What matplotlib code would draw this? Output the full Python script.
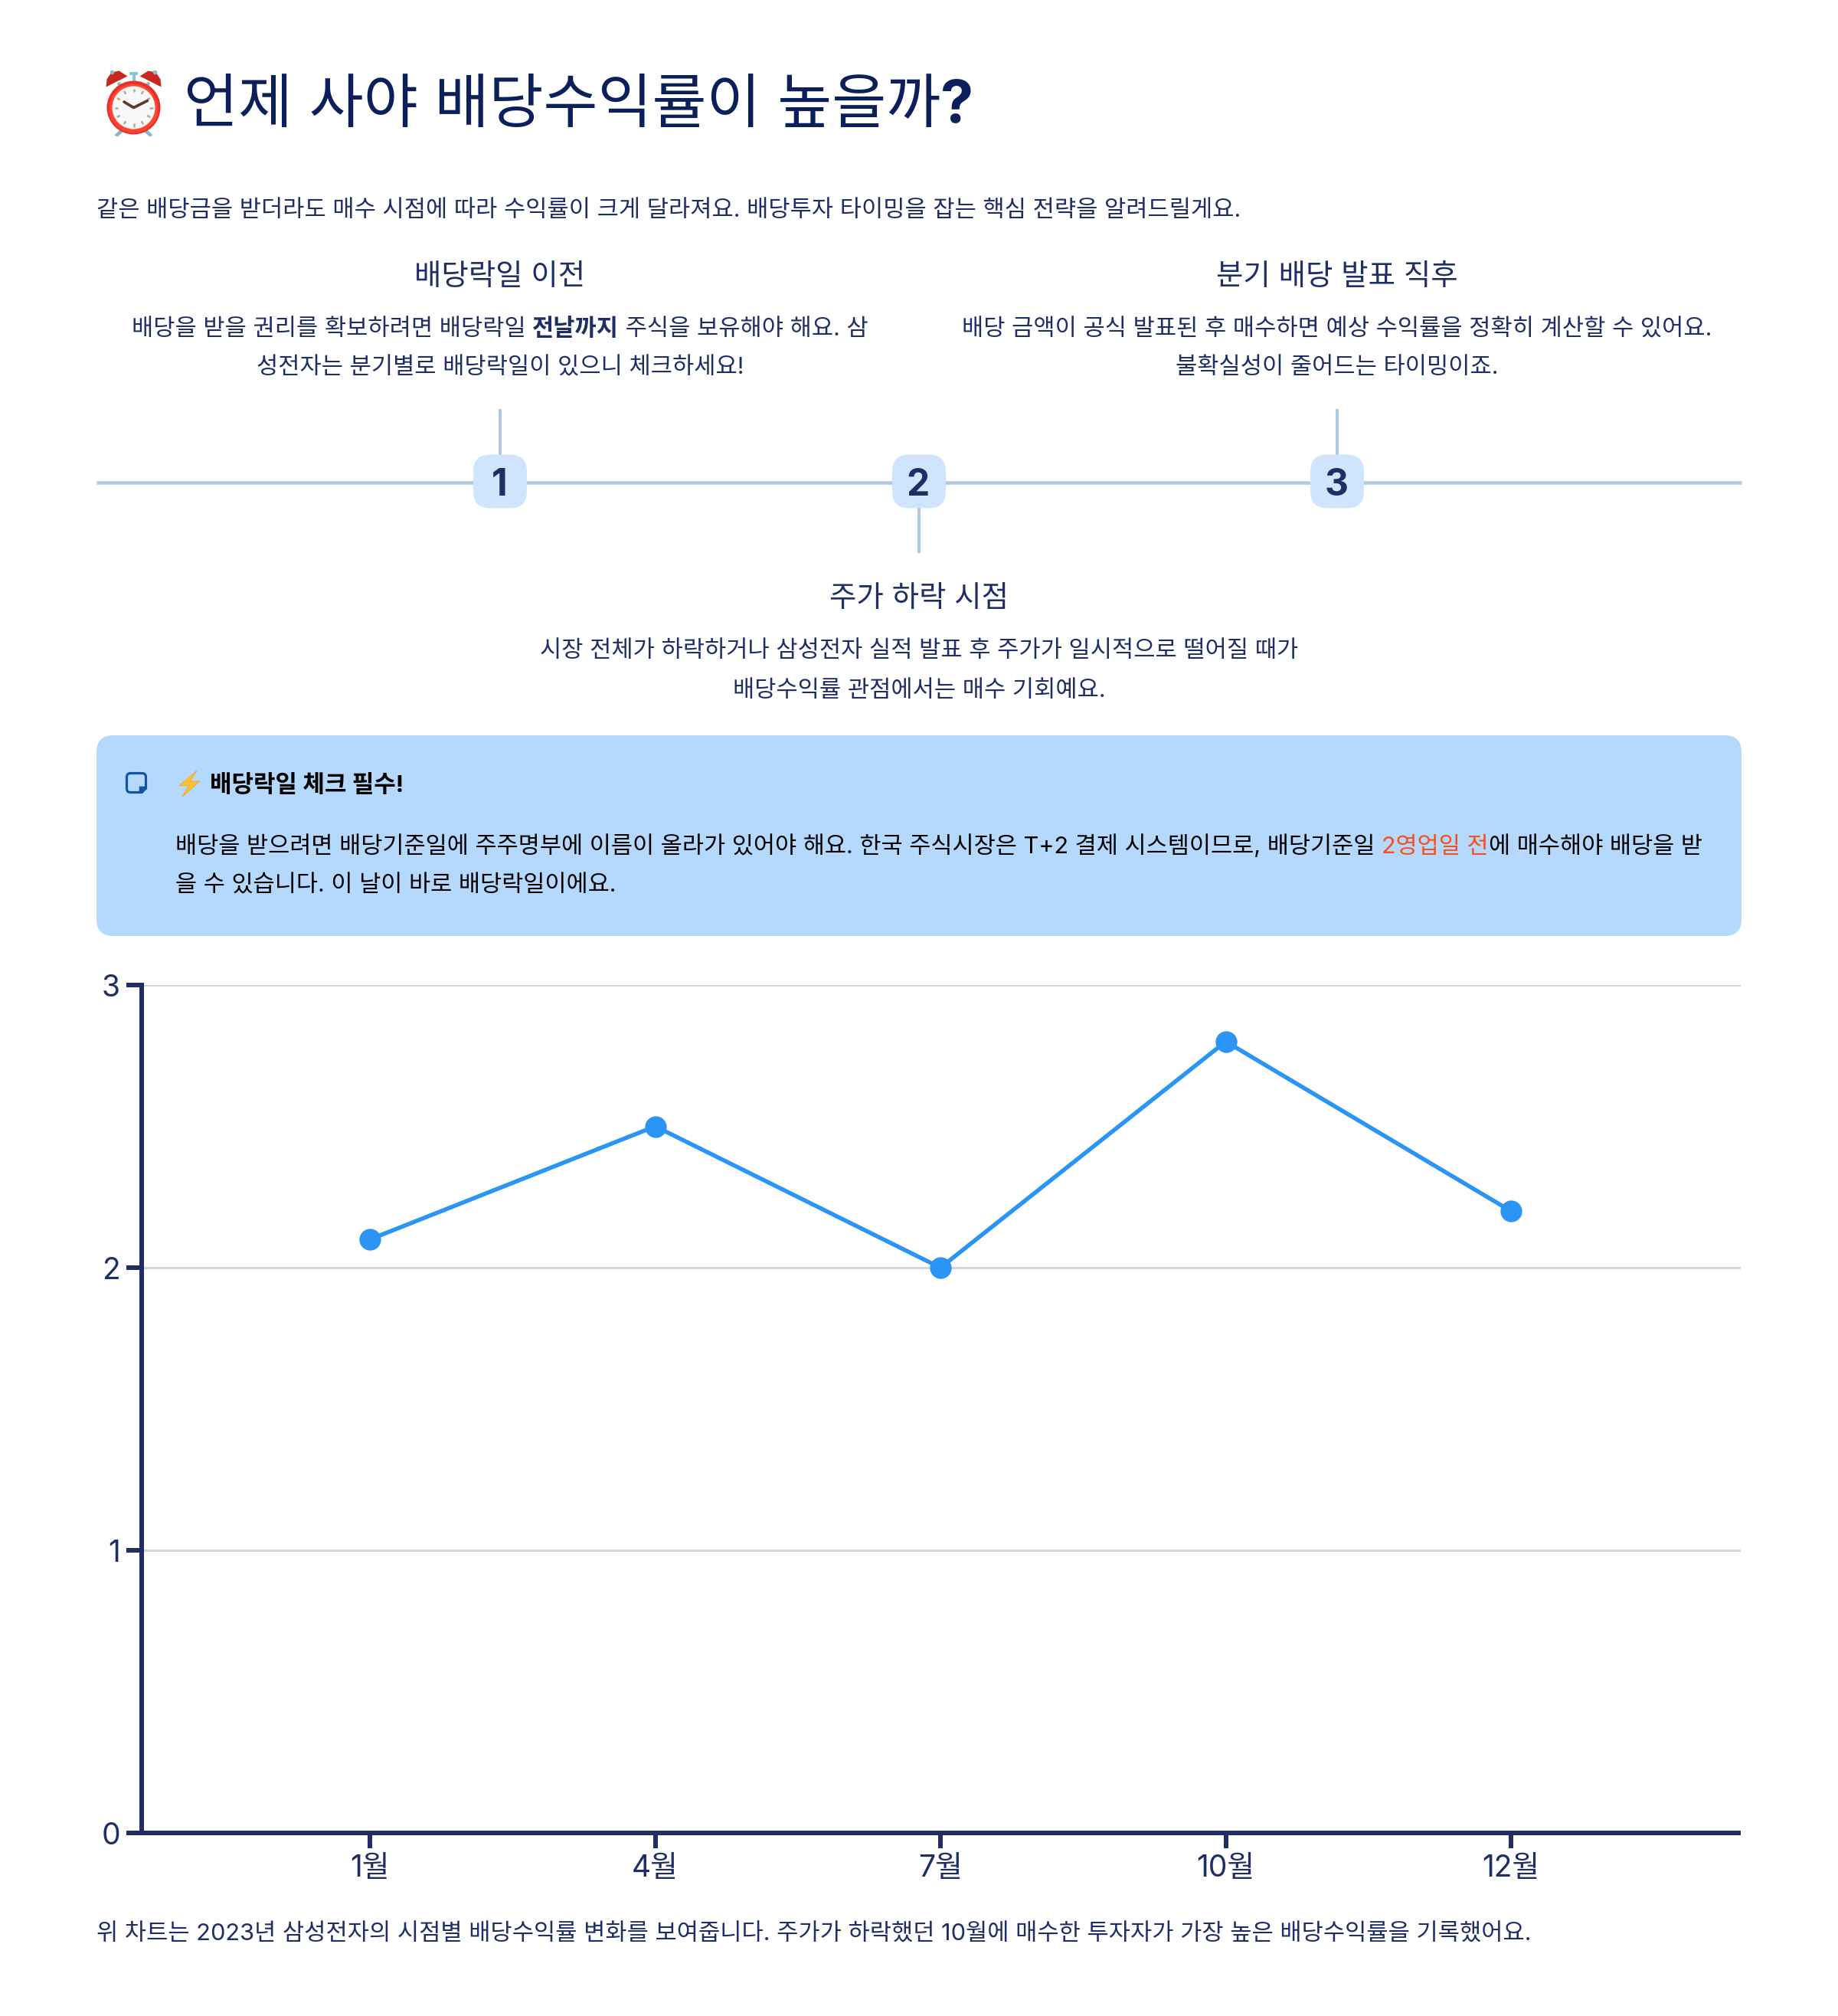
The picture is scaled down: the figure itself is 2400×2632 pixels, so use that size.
import matplotlib
matplotlib.use("Agg")
from matplotlib import pyplot as plt
from matplotlib.patches import FancyBboxPatch, Circle, Polygon, Rectangle

FONTS = ['Inter', 'Noto Sans CJK KR', 'DejaVu Sans']
plt.rcParams['font.family'] = FONTS

# chart data
months = ['1월', '4월', '7월', '10월', '12월']
yields = [2.1, 2.5, 2.0, 2.8, 2.2]
y_ticks = [0, 1, 2, 3]

# page text
title = '언제 사야 배당수익률이 높을까'
title_end = '?'
subtitle = '같은 배당금을 받더라도 매수 시점에 따라 수익률이 크게 달라져요. 배당투자 타이밍을 잡는 핵심 전략을 알려드릴게요.'
step_numbers = ['1', '2', '3']
step_heads = ['배당락일 이전', '주가 하락 시점', '분기 배당 발표 직후']
step1_lines = [[('배당을 받을 권리를 확보하려면 배당락일 ', 'n'), ('전날까지', 'b'), (' 주식을 보유해야 해요. 삼', 'n')],
               [('성전자는 분기별로 배당락일이 있으니 체크하세요!', 'n')]]
step2_lines = [[('시장 전체가 하락하거나 삼성전자 실적 발표 후 주가가 일시적으로 떨어질 때가', 'n')],
               [('배당수익률 관점에서는 매수 기회예요.', 'n')]]
step3_lines = [[('배당 금액이 공식 발표된 후 매수하면 예상 수익률을 정확히 계산할 수 있어요.', 'n')],
               [('불확실성이 줄어드는 타이밍이죠.', 'n')]]
note_head = '배당락일 체크 필수!'
note_line1 = [('배당을 받으려면 배당기준일에 주주명부에 이름이 올라가 있어야 해요. 한국 주식시장은 T+2 결제 시스템이므로, 배당기준일 ', 'n'),
              ('2영업일 전', 'o'), ('에 매수해야 배당을 받', 'n')]
note_line2 = [('을 수 있습니다. 이 날이 바로 배당락일이에요.', 'n')]
footnote = '위 차트는 2023년 삼성전자의 시점별 배당수익률 변화를 보여줍니다. 주가가 하락했던 10월에 매수한 투자자가 가장 높은 배당수익률을 기록했어요.'

NAVY = '#1F2F66'
DARK = '#0B1F5B'
LINE = '#B0C9E2'
BOX = '#B5D9FC'
W, H = 2400, 2632

fig = plt.figure(figsize=(12, 13.16), dpi=200)
bg = fig.add_axes([0, 0, 1, 1])
bg.set_xlim(0, W)
bg.set_ylim(H, 0)
bg.axis('off')
renderer = fig.canvas.get_renderer()


def px(size):
    return size * 72 / 200


def run_width(s, size, weight):
    # wrap in X so leading and trailing spaces are counted
    a = bg.text(0, 0, 'X' + s + 'X', fontsize=size, fontweight=weight)
    b = bg.text(0, 0, 'XX', fontsize=size, fontweight=weight)
    w = a.get_window_extent(renderer).width - b.get_window_extent(renderer).width
    a.remove()
    b.remove()
    return w * W / fig.bbox.width


def draw_runs(x, yc, runs, size_px, color, ha='left'):
    size = px(size_px)
    styles = {'n': ('normal', color), 'b': ('bold', color), 'o': ('normal', '#F4511E')}
    widths = [run_width(s, size, styles[k][0]) for s, k in runs]
    if ha == 'center':
        x = x - sum(widths) / 2
    y = yc + 0.36 * size_px
    for (s, k), w in zip(runs, widths):
        bg.text(x, y, s, fontsize=size, fontweight=styles[k][0], color=styles[k][1], va='baseline', ha='left')
        x += w


def draw_clock(cx, cy):
    # legs
    for s in (-1, 1):
        bg.add_patch(Polygon([[cx + s * 17, cy + 28], [cx + s * 25, cy + 36], [cx + s * 21, cy + 38], [cx + s * 13, cy + 31]], fc='#7FB6CC', lw=0))
    # stem and bells
    bg.add_patch(Rectangle((cx - 2, cy - 44), 4, 12, fc='#8CC3D8', lw=0))
    bg.add_patch(FancyBboxPatch((cx - 5, cy - 46), 10, 3, boxstyle='round,pad=0.5,rounding_size=1.5', fc='#8CC3D8', lw=0))
    for s in (-1, 1):
        bg.add_patch(Polygon([[cx + s * 36, cy - 27], [cx + s * 35, cy - 37], [cx + s * 29, cy - 46], [cx + s * 19, cy - 48], [cx + s * 8, cy - 41]], fc='#C8281E', lw=0))
        bg.add_patch(Circle((cx + s * 28, cy - 46), 2.8, fc='#8ABBD0', lw=0))
        bg.add_patch(Circle((cx + s * 19, cy - 31), 2.5, fc='#8ABBD0', lw=0))
    # body and face
    bg.add_patch(Circle((cx, cy), 35, fc='#E53225', lw=0))
    bg.add_patch(Circle((cx, cy + 1), 32, fc='#FF4433', lw=0))
    bg.add_patch(Circle((cx, cy), 28, fc='#F8F8F8', lw=0))
    for dx, dy in [(0, -25), (0, 25), (-25, 0), (25, 0), (-12.5, -21.6), (12.5, -21.6), (-12.5, 21.6), (12.5, 21.6), (-21.6, -12.5), (21.6, -12.5), (-21.6, 12.5), (21.6, 12.5)]:
        bg.plot([cx + dx * 0.82, cx + dx], [cy + dy * 0.82, cy + dy], color='#BCA68F', lw=0.9, solid_capstyle='butt')
    bg.plot([cx - 12.5, cx, cx + 18], [cy - 7.5, cy, cy - 9], color='#5A3A28', lw=1.3, solid_capstyle='round')


# title
draw_clock(174.5, 140.5)
draw_runs(240, 132, [(title, 'n'), (title_end, 'b')], 77.2, DARK)

draw_runs(126, 272, [(subtitle, 'n')], 30.7, NAVY)

# timeline
bg.plot([126, 2274], [630, 630], color=LINE, lw=px(4.5), zorder=1, solid_capstyle='butt')
step_x = [653, 1200, 1746]
bg.plot([step_x[0]] * 2, [534, 600], color=LINE, lw=px(4), zorder=1, solid_capstyle='butt')
bg.plot([step_x[1]] * 2, [660, 722], color=LINE, lw=px(4), zorder=1, solid_capstyle='butt')
bg.plot([step_x[2]] * 2, [534, 600], color=LINE, lw=px(4), zorder=1, solid_capstyle='butt')
for x, num in zip(step_x, step_numbers):
    bg.add_patch(FancyBboxPatch((x - 35 + 20, 593.5 + 20), 30, 30, boxstyle='round,pad=20,rounding_size=22', fc='#CFE5FD', lw=0, zorder=2))
    bg.text(x - 1, 629, num, fontsize=px(48), fontweight='bold', color=NAVY, ha='center', va='center_baseline', zorder=3)

heads_y = [358, 778, 358]
bodies = [step1_lines, step2_lines, step3_lines]
body_y = [(427, 477), (847, 899), (427, 477)]
for x, head, hy, lines, ys in zip(step_x, step_heads, heads_y, bodies, body_y):
    draw_runs(x, hy, [(head, 'n')], 38.5, NAVY, ha='center')
    for runs, y in zip(lines, ys):
        draw_runs(x, y, runs, 30.7, NAVY, ha='center')

# callout box
bg.add_patch(FancyBboxPatch((146, 980), 2108, 222, boxstyle='round,pad=20,rounding_size=22', fc=BOX, lw=0))
bg.add_patch(FancyBboxPatch((168, 1012), 20, 20, boxstyle='round,pad=2.5,rounding_size=5', fc='none', ec='#10559E', lw=px(3.2)))
bg.add_patch(Polygon([[192, 1030], [192, 1037], [185, 1037]], fc=BOX, lw=0))
bg.add_patch(Polygon([[181.7, 1026.7], [191.5, 1026.7], [191.5, 1028.5], [184.3, 1035.5], [181.7, 1035.5]], fc='#10559E', lw=0))
bg.add_patch(Polygon([[257.3, 1006], [234, 1025.7], [246.7, 1025.7], [237.3, 1040.7], [260.7, 1020], [248.3, 1020]], fc='#FFC02E', ec='#F5A623', lw=0.3))
draw_runs(274, 1023, [(note_head, 'b')], 31, 'black')
draw_runs(229, 1103, note_line1, 30.6, 'black')
draw_runs(229, 1153, note_line2, 30.6, 'black')

draw_runs(126, 2522, [(footnote, 'n')], 30.7, NAVY)

# line chart
ax = fig.add_axes([185 / W, 1 - 2393 / H, (2273 - 185) / W, (2393 - 1286) / H])
ax.patch.set_alpha(0)
ax.set_xlim(-0.8, 4.805)
ax.set_ylim(0, 3)
ax.plot(range(len(months)), yields, color='#2B95F5', lw=px(5.5), marker='o', ms=px(25.5), clip_on=False, zorder=3)
ax.set_xticks(range(len(months)))
ax.set_xticklabels(months)
ax.set_yticks(y_ticks)
ax.grid(axis='y', color='#D0D5E0', lw=px(3))
ax.set_axisbelow(True)
ax.tick_params(axis='both', colors=NAVY, labelsize=px(39), length=px(20), width=px(6), pad=px(8))
ax.spines['top'].set_visible(False)
ax.spines['right'].set_visible(False)
for side in ['left', 'bottom']:
    ax.spines[side].set_color(NAVY)
    ax.spines[side].set_linewidth(px(6))
ax.spines['bottom'].set_capstyle('butt')

fig.savefig('out.png', dpi=200)
